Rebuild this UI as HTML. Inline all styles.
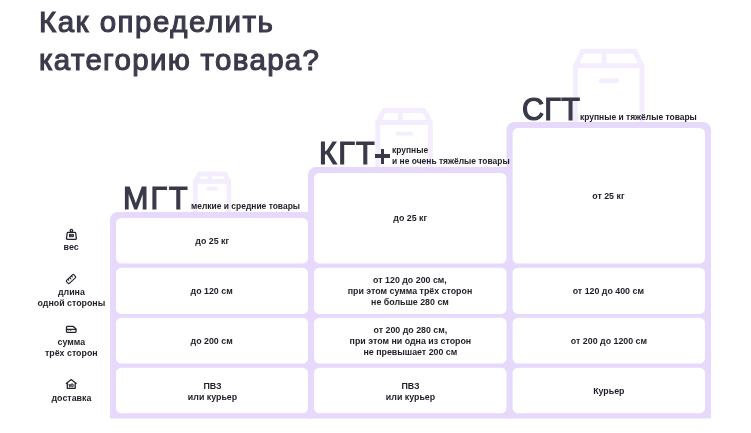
<!DOCTYPE html>
<html><head><meta charset="utf-8">
<style>
*{margin:0;padding:0;box-sizing:border-box}
html,body{width:751px;height:433px;background:#fff;overflow:hidden}
body{position:relative;will-change:transform;font-family:"Liberation Sans",sans-serif;color:#1f1e28}
.abs{position:absolute}
.title{position:absolute;left:39px;font-size:29.5px;font-weight:normal;line-height:37.6px;color:#3b3a4b;-webkit-text-stroke:1.1px #3b3a4b;white-space:nowrap}
.lav{position:absolute;background:#e7d9fc}
.cell{position:absolute;background:#fff;border-radius:6px}
.big{position:absolute;font-size:30.5px;font-weight:normal;color:#3a3949;-webkit-text-stroke:1.2px #3a3949;white-space:nowrap;line-height:30px}
.sm{position:absolute;font-size:9.5px;font-weight:bold;white-space:nowrap;line-height:11px;color:#1f1e28;transform:scaleX(0.89);transform-origin:0 0}
.ct{position:absolute;font-size:9.5px;font-weight:bold;white-space:nowrap;line-height:11px;text-align:center;color:#1f1e28}
.ct span{display:inline-block;transform-origin:50% 50%}
</style></head><body>
<div class="title" style="top:3.2px;letter-spacing:1.5px">Как определить</div>
<div class="title" style="top:41.3px;letter-spacing:1.3px">категорию товара?</div>

<svg class="abs" style="left:0;top:0" width="751" height="433">
  <g fill="none" stroke="#f4edfe" stroke-width="5" stroke-linecap="round" stroke-linejoin="round">
  <g stroke-width="5">
      <path d="M575.5 65.8 L582.5 51.3 H635.0 L642.0 65.8 Z"/>
      <path d="M575.5 65.8 V300 M642.0 65.8 V300"/>
      <path d="M604.1 51.3 V65.8"/>
      <path d="M601.25 80.75 H616.55" stroke-width="4.9"/>
    </g>
  <g stroke-width="5">
      <path d="M377.8 122.4 L383.8 110.5 H424.3 L430.3 122.4 Z"/>
      <path d="M377.8 122.4 V300 M430.3 122.4 V300"/>
      <path d="M400.3 110.5 V122.4"/>
      <path d="M397.4 133.7 H411.1" stroke-width="3.8"/>
    </g>
  <g stroke-width="4.6">
      <path d="M195.5 181.4 L199.5 173.9 H224.89999999999998 L228.89999999999998 181.4 Z"/>
      <path d="M195.5 181.4 V300 M228.89999999999998 181.4 V300"/>
      <path d="M210 173.9 V181.4"/>
      <path d="M208.1 188.6 H216.2" stroke-width="3.8"/>
    </g>
  </g>
</svg>

<svg class="abs" style="left:0;top:0" width="751" height="433"><g fill="#e7d9fc">
<path d="M110 418.4 V220 A8 8 0 0 1 118 212 H314 V418.4 Z"/>
<path d="M308 418.4 V175 A8 8 0 0 1 316 167 H512 V418.4 Z"/>
<path d="M506.5 418.4 V130 A8 8 0 0 1 514.5 122 H703 A8 8 0 0 1 711 130 V418.4 Z"/>
</g><g fill="#fff">
<rect x="116" y="218" width="192" height="45.50" rx="5.5"/>
<rect x="116" y="267.7" width="192" height="46.20" rx="5.5"/>
<rect x="116" y="317.7" width="192" height="45.80" rx="5.5"/>
<rect x="116" y="367.7" width="192" height="45.60" rx="5.5"/>
<rect x="314" y="173" width="192.5" height="90.50" rx="5.5"/>
<rect x="314" y="267.7" width="192.5" height="46.20" rx="5.5"/>
<rect x="314" y="317.7" width="192.5" height="45.80" rx="5.5"/>
<rect x="314" y="367.7" width="192.5" height="45.60" rx="5.5"/>
<rect x="512.6" y="128" width="192.4" height="135.50" rx="5.5"/>
<rect x="512.6" y="267.7" width="192.4" height="46.20" rx="5.5"/>
<rect x="512.6" y="317.7" width="192.4" height="45.80" rx="5.5"/>
<rect x="512.6" y="367.7" width="192.4" height="45.60" rx="5.5"/>
</g></svg>

<div class="big" style="left:123px;top:183px;letter-spacing:2px">МГТ</div>
<div class="sm" style="left:191px;top:200px">мелкие и средние товары</div>
<div class="big" style="left:319px;top:138px;letter-spacing:1.4px">КГТ</div>
<div class="abs" style="left:375.1px;top:154px;width:14.8px;height:3.6px;background:#3a3949"></div>
<div class="abs" style="left:380.7px;top:148.5px;width:3.4px;height:15px;background:#3a3949"></div>
<div class="sm" style="left:392px;top:144px">крупные<br>и не очень тяжёлые товары</div>
<div class="big" style="left:522px;top:93.5px;letter-spacing:0.3px">СГТ</div>
<div class="sm" style="left:580px;top:111px">крупные и тяжёлые товары</div>

<div class="ct" style="left:116px;top:235px;width:192px"><span style="transform:scaleX(0.93)">до 25 кг</span></div>
<div class="ct" style="left:314px;top:212px;width:192.5px"><span style="transform:scaleX(0.93)">до 25 кг</span></div>
<div class="ct" style="left:512.6px;top:190px;width:192.4px"><span style="transform:scaleX(0.93)">от 25 кг</span></div>
<div class="ct" style="left:116px;top:285px;width:192px"><span style="transform:scaleX(0.93)">до 120 см</span></div>
<div class="ct" style="left:314px;top:274px;width:192.5px"><span style="transform:scaleX(0.93)">от 120 до 200 см,<br>при этом сумма трёх сторон<br>не больше 280 см</span></div>
<div class="ct" style="left:512.6px;top:285px;width:192.4px"><span style="transform:scaleX(0.93)">от 120 до 400 см</span></div>
<div class="ct" style="left:116px;top:335px;width:192px"><span style="transform:scaleX(0.93)">до 200 см</span></div>
<div class="ct" style="left:314px;top:324px;width:192.5px"><span style="transform:scaleX(0.93)">от 200 до 280 см,<br>при этом ни одна из сторон<br>не превышает 200 см</span></div>
<div class="ct" style="left:512.6px;top:335px;width:192.4px"><span style="transform:scaleX(0.93)">от 200 до 1200 см</span></div>
<div class="ct" style="left:116px;top:379.5px;width:192px"><span style="transform:scaleX(0.93)">ПВЗ<br>или курьер</span></div>
<div class="ct" style="left:314px;top:379.5px;width:192.5px"><span style="transform:scaleX(0.93)">ПВЗ<br>или курьер</span></div>
<div class="ct" style="left:512.6px;top:385px;width:192.4px"><span style="transform:scaleX(0.93)">Курьер</span></div>
<div class="ct" style="left:21px;top:241.4px;width:100px"><span style="transform:scaleX(0.93)">вес</span></div>
<div class="ct" style="left:21px;top:286.4px;width:100px"><span style="transform:scaleX(0.93)">длина<br>одной стороны</span></div>
<div class="ct" style="left:21px;top:336.3px;width:100px"><span style="transform:scaleX(0.93)">сумма<br>трёх сторон</span></div>
<div class="ct" style="left:21px;top:391.5px;width:100px"><span style="transform:scaleX(0.93)">доставка</span></div>

<svg class="abs" style="left:60px;top:224px" width="22" height="170" viewBox="60 224 22 170">
 <g fill="none" stroke="#24232d" stroke-width="1.3" stroke-linecap="round" stroke-linejoin="round">
  <circle cx="71.4" cy="230.7" r="1.25"/>
  <path d="M68 232.3 H74.9 Q75.6 232.3 75.7 233 L76.3 238.3 Q76.4 239.3 75.4 239.3 H67.4 Q66.4 239.3 66.5 238.3 L67.2 233 Q67.3 232.3 68 232.3 Z"/>
  <g transform="rotate(-43 71 279)" stroke-width="1.15">
   <rect x="66" y="277" width="10" height="4.1" rx="0.8"/>
   <path d="M68.6 277.2 V278.3 M71 277.2 V278.8 M73.4 277.2 V278.3"/>
  </g>
  <path d="M67.4 326.3 H73.1 L76 329 V331.6 Q76 332.4 75.2 332.4 H67.3 Q66.5 332.4 66.5 331.6 V327.2 Q66.5 326.3 67.4 326.3 Z"/>
  <path d="M66.6 329.3 H75.9"/>
  <path d="M71.2 379.6 L66.3 383.4 M71.2 379.6 L76.2 383.4 M67.3 382.8 V388.3 H75.2 V382.8"/>
 </g>
 <g fill="#24232d">
  <text x="71.4" y="237.3" font-family="Liberation Sans" font-weight="bold" font-size="4" text-anchor="middle" textLength="5" lengthAdjust="spacingAndGlyphs" stroke="#24232d" stroke-width="0.5">KG</text>
  <circle cx="68.6" cy="329.8" r="0.8"/><circle cx="70.6" cy="330" r="0.8"/>
  <text x="71.3" y="386.9" font-family="Liberation Sans" font-weight="bold" font-size="4.6" text-anchor="middle" textLength="5" lengthAdjust="spacingAndGlyphs" stroke="#24232d" stroke-width="0.25">wb</text>
 </g>
</svg>

</body></html>
